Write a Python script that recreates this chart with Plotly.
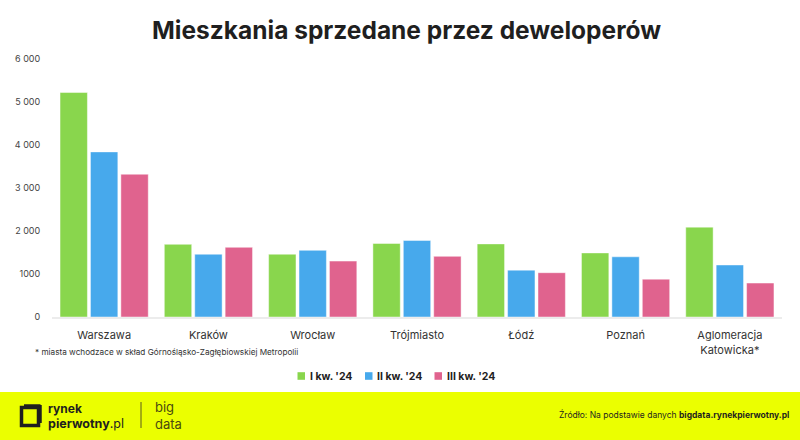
import plotly.graph_objects as go

categories = ["Warszawa", "Kraków", "Wrocław", "Trójmiasto", "Łódź", "Poznań", "Aglomeracja<br>Katowicka*"]
series_names = ["I kw. '24", "II kw. '24", "III kw. '24"]
q1 = [5220, 1690, 1460, 1710, 1700, 1490, 2090]
q2 = [3840, 1460, 1550, 1780, 1090, 1400, 1210]
q3 = [3320, 1620, 1300, 1410, 1030, 880, 790]
tick_vals = [0, 1000, 2000, 3000, 4000, 5000, 6000]
tick_text = ["0", "1000", "2 000", "3 000", "4 000", "5 000", "6 000"]
colors = ["#89D64D", "#47A9EC", "#E0638E"]

W, H = 800, 440
ML, MR, MT, MB = 52, 18, 59, 123
PW, PH = W - ML - MR, H - MT - MB
FONT = "Inter, 'Open Sans', sans-serif"

def px(x):
    return (x - ML) / PW

def py(y):
    return (H - MB - y) / PH

fig = go.Figure()
for name, vals, col in zip(series_names, [q1, q2, q3], colors):
    fig.add_trace(go.Bar(
        x=categories, y=vals, name=name, showlegend=False,
        marker=dict(color=col, line=dict(color="rgba(255,255,255,0.45)", width=1)),
        hovertemplate="%{x}: %{y}<extra>" + name + "</extra>",
    ))

shapes = [
    # yellow footer band
    dict(type="rect", xref="paper", yref="paper", x0=px(0), x1=px(W), y0=py(392), y1=py(H),
         fillcolor="#EBFF00", line=dict(width=0), layer="below"),
    # logo square icon
    dict(type="rect", xref="paper", yref="paper", x0=px(21.5), x1=px(38.5), y0=py(407.5), y1=py(425.5),
         line=dict(color="#1f1f1f", width=3.5), fillcolor="rgba(0,0,0,0)"),
    dict(type="line", xref="paper", yref="paper", x0=px(24), x1=px(40.5), y0=py(405.5), y1=py(405.5),
         line=dict(color="#1f1f1f", width=2.5)),
    dict(type="line", xref="paper", yref="paper", x0=px(40.5), x1=px(40.5), y0=py(405), y1=py(423),
         line=dict(color="#1f1f1f", width=2.5)),
    # divider line
    dict(type="line", xref="paper", yref="paper", x0=px(141), x1=px(141), y0=py(402), y1=py(428),
         line=dict(color="#5a5a20", width=1)),
]

annotations = [
    dict(text="<b>Mieszkania sprzedane przez deweloperów</b>", xref="paper", yref="paper",
         x=px(406), y=py(30), xanchor="center", yanchor="middle", showarrow=False,
         font=dict(size=24.5, color="#1f1f1f", family=FONT)),
    dict(text="* miasta wchodzace w skład Górnośląsko-Zagłębiowskiej Metropolii", xref="paper", yref="paper",
         x=px(33), y=py(352), xanchor="left", yanchor="middle", showarrow=False,
         font=dict(size=8.2, color="#333333", family=FONT)),
    dict(text="<b>rynek</b>", xref="paper", yref="paper", x=px(46), y=py(408), xanchor="left", yanchor="middle",
         showarrow=False, font=dict(size=12, color="#1f1f1f", family=FONT)),
    dict(text="<b>pierwotny</b>.pl", xref="paper", yref="paper", x=px(46), y=py(423), xanchor="left", yanchor="middle",
         showarrow=False, font=dict(size=12.5, color="#1f1f1f", family=FONT)),
    dict(text="big<br>data", xref="paper", yref="paper", x=px(153), y=py(415), xanchor="left", yanchor="middle",
         showarrow=False, align="left", font=dict(size=13, color="#4a4a10", family=FONT)),
    dict(text="Źródło: Na podstawie danych <b>bigdata.rynekpierwotny.pl</b>", xref="paper", yref="paper",
         x=px(791), y=py(414), xanchor="right", yanchor="middle", showarrow=False,
         font=dict(size=8.5, color="#1f1f1f", family=FONT)),
]

# legend drawn as colour squares + labels
legend_sq_x = [297.5, 365, 434.5]
legend_y = 376
for name, col, sx in zip(series_names, colors, legend_sq_x):
    shapes.append(dict(type="rect", xref="paper", yref="paper", x0=px(sx), x1=px(sx + 7.5),
                       y0=py(legend_y - 3.8), y1=py(legend_y + 3.8), fillcolor=col, line=dict(width=0)))
    annotations.append(dict(text="<b>" + name + "</b>", xref="paper", yref="paper", x=px(sx + 10),
                            y=py(legend_y), xanchor="left", yanchor="middle", showarrow=False,
                            font=dict(size=10.5, color="#222222", family=FONT)))

fig.update_layout(
    width=W, height=H,
    margin=dict(l=ML, r=MR, t=MT, b=MB),
    paper_bgcolor="white", plot_bgcolor="white",
    font=dict(family=FONT, color="#333333"),
    barmode="group", bargap=0.125, bargroupgap=0.1,
    showlegend=False,
    shapes=shapes, annotations=annotations,
)
fig.update_xaxes(showline=True, linecolor="#ececec", linewidth=2, showgrid=False,
                 ticks="outside", ticklen=7, tickcolor="rgba(0,0,0,0)",
                 tickfont=dict(size=11, color="#333333", family=FONT))
fig.update_yaxes(range=[0, 6000], tickvals=tick_vals, ticktext=tick_text, showgrid=False,
                 zeroline=False, showline=False, ticks="outside", ticklen=9, tickcolor="rgba(0,0,0,0)",
                 tickfont=dict(size=9, color="#444444", family=FONT))

fig.write_html("out.html", config={"displayModeBar": False},
               post_script="document.body.style.margin='0';document.body.style.overflow='hidden';")
